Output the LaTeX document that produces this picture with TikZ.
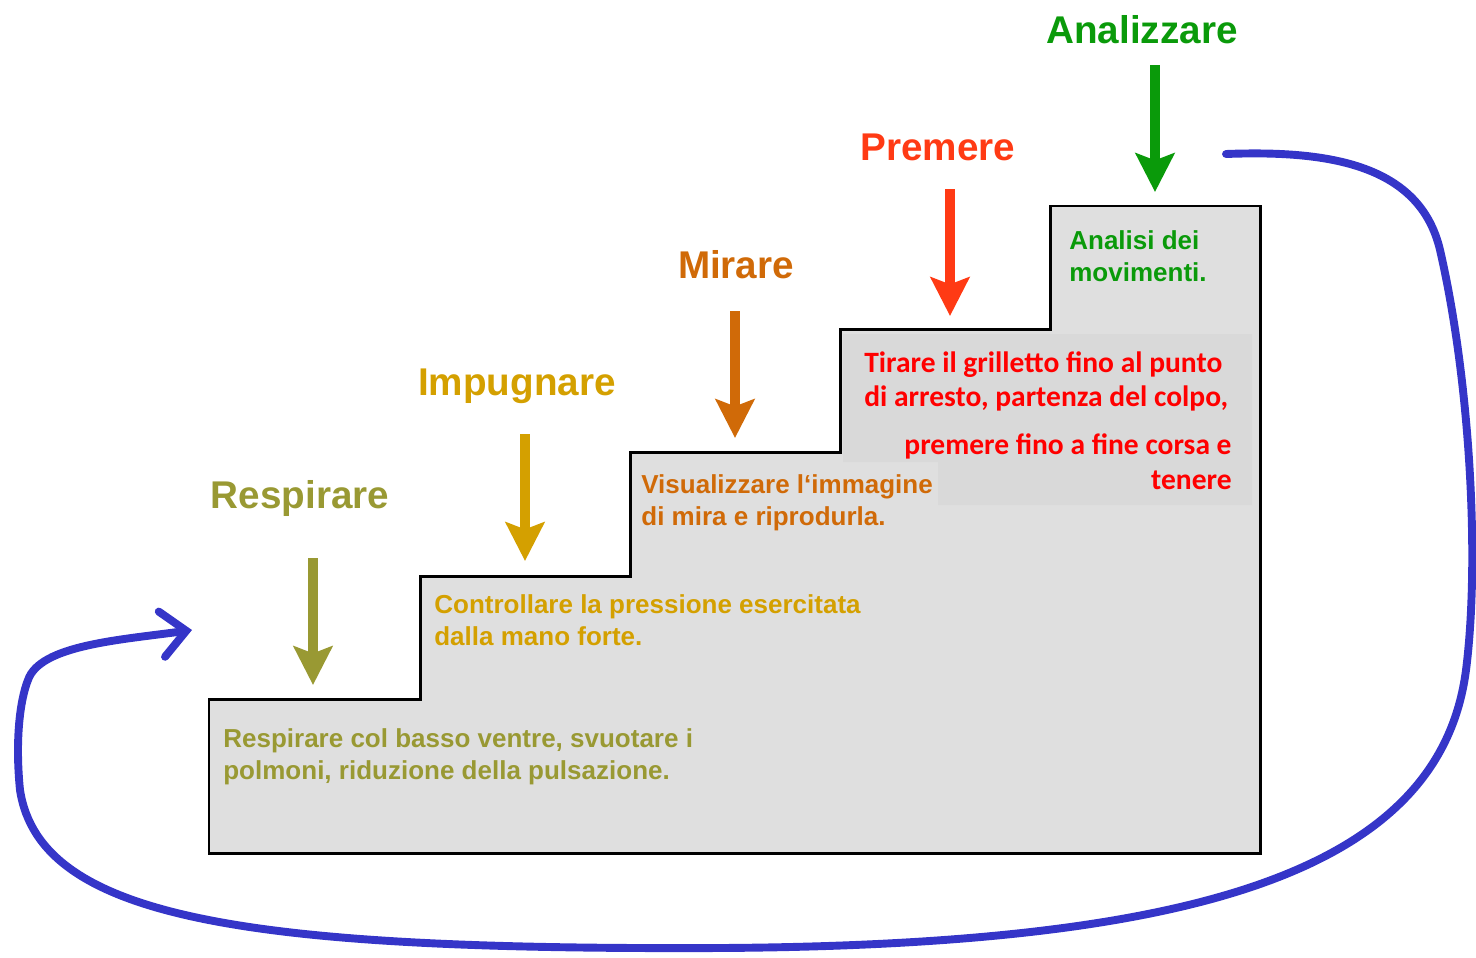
\documentclass[tikz,border=0pt]{standalone}
\usepackage{fontspec}
\setmainfont{Liberation Sans}
\newfontfamily\calfont{Carlito}
\usepackage{tikz}
\usetikzlibrary{arrows.meta}
\definecolor{respcol}{HTML}{999933}
\definecolor{impcol}{HTML}{D4A000}
\definecolor{mircol}{HTML}{D06A08}
\definecolor{premcol}{HTML}{FF3A14}
\definecolor{analcol}{HTML}{0A9A0A}
\definecolor{redtxt}{HTML}{FF0000}
\definecolor{stairgray}{HTML}{DFDFDF}
\definecolor{patchgray}{HTML}{D9D9D9}
\definecolor{loopblue}{HTML}{3535C8}

\begin{document}
\begin{tikzpicture}[x=0.02cm, y=-0.02cm,
    steplabel/.style={font=\fontsize{22}{26}\selectfont\bfseries, inner sep=0pt},
    steptext/.style={font=\fontsize{14.8}{18}\selectfont\bfseries, align=left, anchor=west, inner sep=0pt},
    redtext/.style={font=\calfont\fontsize{16.8}{19.8}\selectfont\bfseries, text=redtxt, inner sep=0pt},
    downarrow/.style={line width=5.7pt, -{Stealth[length=22pt, width=22pt, inset=4pt]}},
    looparrow/.style={draw=loopblue, line width=4.5pt, line cap=round, -{Straight Barb[length=14pt, width=26pt, line cap=round]}}
    ]
    \useasboundingbox (0,0) rectangle (1476,957);
    
    % the stairs
    \fill[stairgray] (209,699) -- (420,699) -- (420,576) -- (630,576) -- (630,452) -- (840,452)
    -- (840,329) -- (1050,329) -- (1050,206) -- (1260,206) -- (1260,853) -- (209,853) -- cycle;
    \fill[patchgray] (843,334) -- (1252,334) -- (1252,505) -- (938,505) -- (938,462) -- (843,462) -- cycle;
    \draw[line width=1.7pt, line join=miter] (209,699) -- (420,699) -- (420,576) -- (630,576) -- (630,452) -- (840,452)
    -- (840,329) -- (1050,329) -- (1050,206) -- (1260,206) -- (1260,853) -- (209,853) -- cycle;
    
    % labels and arrows of the steps
    \foreach \lab/\txt/\lx/\ly/\ax/\ay/\col in {resp/Respirare/300/498/313/558/respcol,
        imp/Impugnare/517/386/525/434/impcol,
        mir/Mirare/736/265/735/311/mircol,
        prem/Premere/938/147/950/189/premcol,
        anal/Analizzare/1142/30/1155/65/analcol} {
        \node[steplabel, text=\col] (\lab) at (\lx,\ly) {\txt};
        \coordinate (\lab top) at (\ax,\ay);
        \coordinate (\lab tip) at (\ax,\ay+127);
        \draw[downarrow, draw=\col] (\lab top) -- (\lab tip);
    }
    
    % texts on the steps
    \node[steptext, text=respcol] (resptext) at (223,757) {Respirare col basso ventre, svuotare i\\polmoni, riduzione della pulsazione.};
    \node[steptext, text=impcol] (imptext) at (434,620) {Controllare la pressione esercitata\\dalla mano forte.};
    \node[steptext, text=mircol] (mirtext) at (641,502.5) {Visualizzare l‘immagine\\di mira e riprodurla.};
    \node[redtext, align=left, anchor=west] (premtext) at (864,381.5) {Tirare il grilletto fino al punto\\di arresto, partenza del colpo,};
    \node[redtext, align=right, anchor=east] (premtext2) at (1232,461.5) {premere fino a fine corsa e\\tenere};
    \node[steptext, text=analcol] (analtext) at (1069,256) {Analisi dei\\movimenti.};
    
    % loop back to the start
    \coordinate (loopstart) at (1226,154);
    \coordinate (loopend) at (192,630);
    \draw[looparrow] (loopstart) .. controls (1330,150) and (1420,165) .. (1440,250)
    .. controls (1470,380) and (1480,560) .. (1466,670)
    .. controls (1440,870) and (1200,945) .. (720,948)
    .. controls (250,950) and (40,920) .. (20,790)
    .. controls (15,740) and (20,700) .. (28,680)
    .. controls (40,645) and (120,640) .. (loopend);
    
\end{tikzpicture}
\end{document}
